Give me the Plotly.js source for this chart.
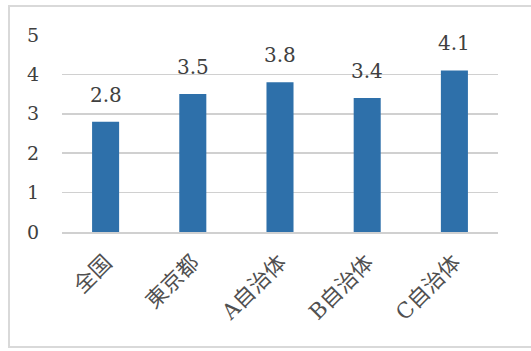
<!DOCTYPE html>
<html>
<head>
<meta charset="utf-8">
<script src="https://cdn.plot.ly/plotly-3.0.1.min.js"></script>
<style>
html,body{margin:0;padding:0;background:#fff;}
#wrap{position:relative;width:531px;height:351px;}
#chart{position:absolute;left:0;top:0;width:531px;height:351px;}
#frame{position:absolute;left:8px;top:5px;width:540px;height:343px;border:2px solid #d9d9d9;box-sizing:border-box;pointer-events:none;}
</style>
</head>
<body>
<div id="wrap"><div id="chart"></div><div id="frame"></div></div>
<script>
const categories = ["全国", "東京都", "A自治体", "B自治体", "C自治体"];
const values = [2.8, 3.5, 3.8, 3.4, 4.1];
const labels = ["2.8", "3.5", "3.8", "3.4", "4.1"];
const yTicks = [0, 1, 2, 3, 4, 5];

const serif = "DejaVu Serif, Noto Sans CJK JP, serif";
const txt = "#404040";

const trace = {
  type: "bar",
  x: categories,
  y: values,
  marker: {color: "#2e70aa"},
  hoverinfo: "skip"
};

const annotations = categories.map((c, i) => ({
  x: c, y: values[i], xref: "x", yref: "y",
  text: labels[i], showarrow: false,
  yanchor: "bottom", yshift: 13,
  font: {family: serif, size: 20, color: txt}
}));

const layout = {
  width: 531, height: 351,
  margin: {l: 62, r: 33, t: 35, b: 119},
  paper_bgcolor: "#fff", plot_bgcolor: "#fff",
  bargap: 0.69,
  showlegend: false,
  xaxis: {
    type: "category",
    tickangle: -45,
    tickfont: {family: serif, size: 21.5, color: "#505050"},
    ticklabelstandoff: 8,
    showgrid: false,
    showline: true, linecolor: "#d0d0d0", linewidth: 1.5,
    ticks: "", ticklen: 0,
    automargin: false
  },
  yaxis: {
    range: [0, 5],
    tickvals: yTicks,
    ticktext: yTicks.map(String),
    tickfont: {family: serif, size: 19, color: txt},
    ticklabelstandoff: 22,
    showgrid: true, gridcolor: "#d0d0d0", gridwidth: 1.5,
    zeroline: false, showline: false,
    ticks: "", ticklen: 0,
    automargin: false
  },
  annotations: annotations
};

Plotly.newPlot("chart", [trace], layout, {displayModeBar: false, staticPlot: true});
</script>
</body>
</html>
